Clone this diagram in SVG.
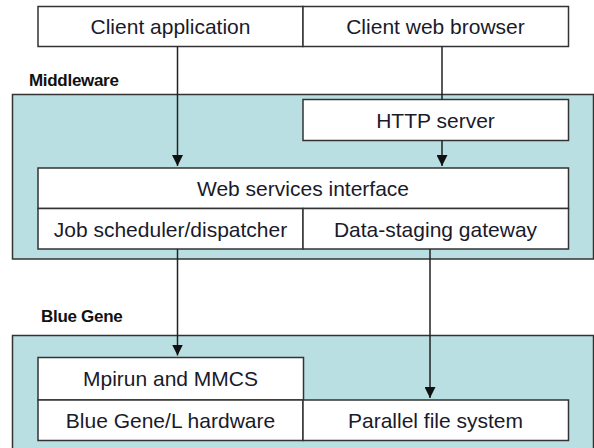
<svg xmlns="http://www.w3.org/2000/svg" width="594" height="448" viewBox="0 0 594 448">
<defs>
<style>
.panel{fill:#badfe2;stroke:#333;stroke-width:1.5}
.box{fill:#fff;stroke:#333;stroke-width:1.5}
.t{font-family:"Liberation Sans",Arial,sans-serif;font-size:21px;fill:#1a1a2a;text-anchor:middle}
.lbl{font-family:"Liberation Sans",Arial,sans-serif;font-size:17px;font-weight:bold;fill:#111;letter-spacing:-0.3px}
.conn{stroke:#222;stroke-width:1.5;fill:none}
</style>
<marker id="ah" markerWidth="11" markerHeight="11" refX="11" refY="5.5" orient="auto" markerUnits="userSpaceOnUse">
<path d="M0,0 L11,5.5 L0,11 Z" fill="#111"/>
</marker>
</defs>
<rect width="594" height="448" fill="#fff"/>
<g id="middleware">
<rect class="panel" x="12.5" y="94.5" width="581" height="164.5"/>
<text class="lbl" x="29" y="86">Middleware</text>
</g>
<g id="bluegene">
<rect class="panel" x="12.5" y="335.5" width="581" height="120"/>
<text class="lbl" x="41" y="322">Blue Gene</text>
</g>
<g id="client-app">
<rect class="box" x="38" y="6.5" width="265" height="40"/>
<text class="t" x="170.5" y="34">Client application</text>
</g>
<g id="client-browser">
<rect class="box" x="303" y="6.5" width="265.5" height="40"/>
<text class="t" x="435.5" y="34">Client web browser</text>
</g>
<g id="http-server">
<rect class="box" x="303" y="99.5" width="265.5" height="41"/>
<text class="t" x="435.5" y="127.5">HTTP server</text>
</g>
<g id="web-services">
<rect class="box" x="38" y="168" width="530.5" height="40.5"/>
<text class="t" x="303" y="196">Web services interface</text>
</g>
<g id="job-scheduler">
<rect class="box" x="38" y="208.5" width="265" height="40.5"/>
<text class="t" x="170.5" y="236.5">Job scheduler/dispatcher</text>
</g>
<g id="data-staging">
<rect class="box" x="303" y="208.5" width="265.5" height="40.5"/>
<text class="t" x="435.5" y="236.5">Data-staging gateway</text>
</g>
<g id="mpirun">
<rect class="box" x="38" y="357.5" width="265.5" height="42.5"/>
<text class="t" x="170.5" y="386">Mpirun and MMCS</text>
</g>
<g id="bgl-hardware">
<rect class="box" x="38" y="400" width="265" height="40.5"/>
<text class="t" x="170.5" y="428">Blue Gene/L hardware</text>
</g>
<g id="parallel-fs">
<rect class="box" x="303" y="400" width="265.5" height="40.5"/>
<text class="t" x="435.5" y="428">Parallel file system</text>
</g>
<g id="connectors">
<line class="conn" x1="177.5" y1="46.5" x2="177.5" y2="166" marker-end="url(#ah)"/>
<line class="conn" x1="442" y1="46.5" x2="442" y2="99.5"/>
<line class="conn" x1="442" y1="140.5" x2="442" y2="166" marker-end="url(#ah)"/>
<line class="conn" x1="177.5" y1="249" x2="177.5" y2="355.5" marker-end="url(#ah)"/>
<line class="conn" x1="430" y1="249" x2="430" y2="398" marker-end="url(#ah)"/>
</g>
</svg>
